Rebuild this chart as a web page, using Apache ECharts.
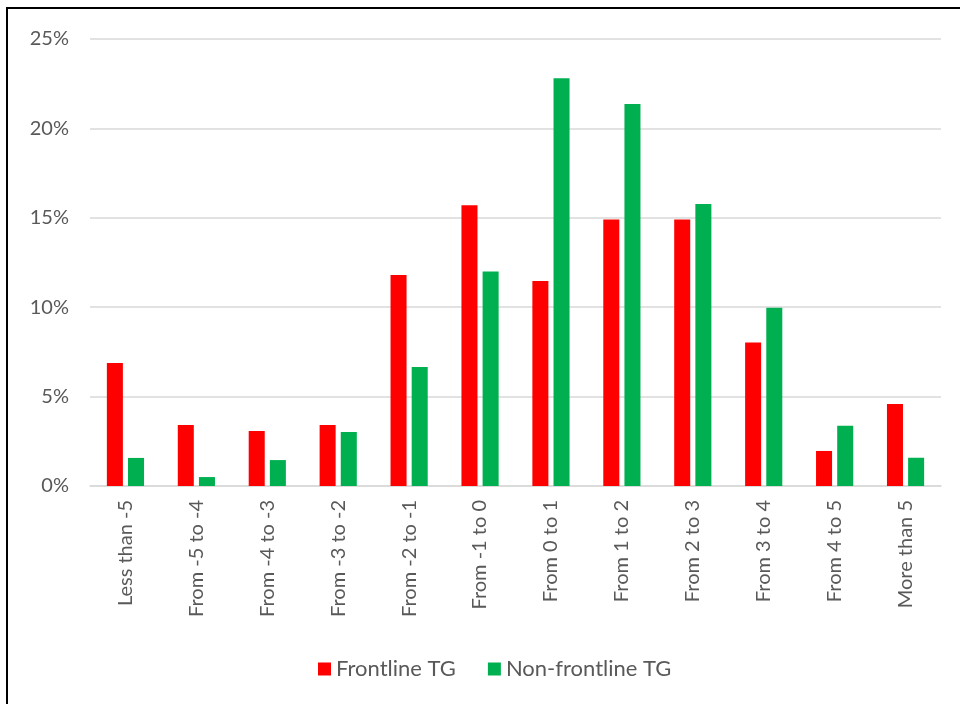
<!DOCTYPE html>
<html>
<head>
<meta charset="utf-8">
<script src="https://cdn.jsdelivr.net/npm/echarts@6/dist/echarts.min.js"></script>
<style>
  html, body { margin: 0; padding: 0; background: #fff; }
  #chart { width: 960px; height: 704px; }
</style>
</head>
<body>
<div id="chart"></div>
<script>
const categories = ['Less than -5', 'From -5 to -4', 'From -4 to -3', 'From -3 to -2', 'From -2 to -1', 'From -1 to 0',
  'From 0 to 1', 'From 1 to 2', 'From 2 to 3', 'From 3 to 4', 'From 4 to 5', 'More than 5'];
const frontline = [6.88, 3.41, 3.08, 3.41, 11.8, 15.7, 11.47, 14.9, 14.9, 8.03, 1.96, 4.59];
const nonFrontline = [1.57, 0.5, 1.45, 3.02, 6.66, 12.0, 22.8, 21.36, 15.77, 9.97, 3.37, 1.58];

const chart = echarts.init(document.getElementById('chart'));

const option = {
  animation: false,
  textStyle: { fontFamily: 'Lato' },
  graphic: [
    {
      type: 'rect',
      shape: { x: 7, y: 8, width: 1200, height: 1200 },
      style: { fill: 'none', stroke: '#000', lineWidth: 2 },
      silent: true
    }
  ],
  grid: { left: 90, right: 19, top: 39, bottom: 218 },
  legend: {
    top: 658,
    left: 318,
    padding: 0,
    itemWidth: 13,
    itemHeight: 13,
    itemGap: 32,
    icon: 'rect',
    textStyle: { color: '#595959', fontSize: 22, fontFamily: 'Lato' },
    data: ['Frontline TG', 'Non-frontline TG']
  },
  xAxis: {
    type: 'category',
    data: categories,
    axisLine: { lineStyle: { color: '#d9d9d9', width: 1.5 } },
    axisTick: { show: false },
    axisLabel: { rotate: 90, margin: 14, color: '#595959', fontSize: 20, fontFamily: 'Lato' }
  },
  yAxis: {
    type: 'value',
    min: 0,
    max: 25,
    interval: 5,
    axisLine: { show: false },
    axisTick: { show: false },
    splitLine: { lineStyle: { color: '#d9d9d9', width: 1.5 } },
    axisLabel: { formatter: '{value}%', margin: 21, color: '#595959', fontSize: 20, fontFamily: 'Lato' }
  },
  series: [
    {
      name: 'Frontline TG',
      type: 'bar',
      data: frontline,
      barWidth: '22.6%',
      barGap: '32%',
      itemStyle: { color: '#FF0000' }
    },
    {
      name: 'Non-frontline TG',
      type: 'bar',
      data: nonFrontline,
      barWidth: '22.6%',
      itemStyle: { color: '#00B050' }
    }
  ]
};

chart.setOption(option);
</script>
</body>
</html>
